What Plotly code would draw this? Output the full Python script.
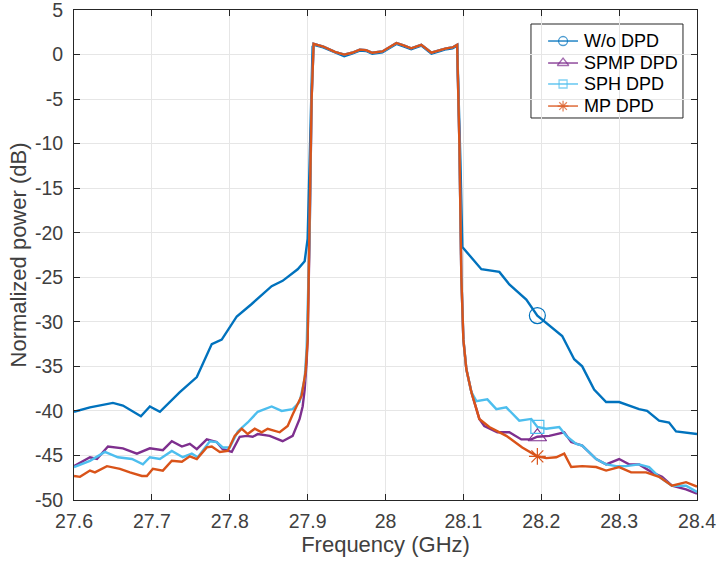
import plotly.graph_objects as go

# ---------------- data ----------------
x_ticks = [27.6, 27.7, 27.8, 27.9, 28.0, 28.1, 28.2, 28.3, 28.4]
x_tick_labels = ["27.6", "27.7", "27.8", "27.9", "28", "28.1", "28.2", "28.3", "28.4"]
y_ticks = [5, 0, -5, -10, -15, -20, -25, -30, -35, -40, -45, -50]
y_tick_labels = ["5", "0", "-5", "-10", "-15", "-20", "-25", "-30", "-35", "-40", "-45", "-50"]

legend_names = ["W/o DPD", "SPMP DPD", "SPH DPD", "MP DPD"]
marker_freq = 28.195

passband_freq = [27.908, 27.92, 27.935, 27.947, 27.957, 27.967, 27.975, 27.983, 27.996,
                 28.005, 28.014, 28.024, 28.033, 28.046, 28.059, 28.07, 28.078, 28.086, 28.092]

wo_freq = [27.600, 27.6205, 27.650, 27.6628, 27.6859, 27.6974, 27.7103, 27.7359, 27.7577,
           27.7769, 27.7897, 27.809, 27.8282, 27.8538, 27.8679, 27.8872, 27.8962, 27.900, 27.9064] \
    + passband_freq + \
          [28.0962, 28.0987, 28.1231, 28.1462, 28.159, 28.1808, 28.195, 28.2269, 28.2423,
           28.2526, 28.2679, 28.2833, 28.300, 28.3256, 28.3359, 28.3513, 28.3641, 28.3731, 28.400]
wo_db = [-40.1, -39.6, -39.1, -39.4, -40.6, -39.5, -40.1, -37.9, -36.2,
         -32.5, -32.0, -29.4, -28.0, -26.0, -25.4, -24.1, -23.2, -20.7, 0.9] \
    + [1.1, 0.8, 0.2, -0.2, 0.1, 0.45, 0.4, 0.1, 0.25, 0.7, 1.2, 0.9, 0.6, 1.0, 0.1, 0.4, 0.6, 0.7, 1.0] + \
        [-12.0, -21.6, -24.1, -24.4, -25.8, -27.5, -29.3, -31.6, -34.2,
         -35.0, -37.6, -39.0, -39.0, -39.8, -40.0, -41.1, -41.3, -42.3, -42.6]

spmp_freq = [27.600, 27.6205, 27.6295, 27.6436, 27.6628, 27.6808, 27.6974, 27.7141, 27.7256,
             27.7385, 27.7487, 27.7577, 27.7705, 27.7833, 27.791, 27.8026, 27.8128, 27.8218,
             27.8295, 27.8359, 27.8513, 27.8679, 27.8808, 27.8897, 27.8936, 27.8962, 27.8987,
             27.900, 27.9026, 27.9051, 27.9077] \
    + passband_freq[1:] + \
            [28.0949, 28.0974, 28.10, 28.1038, 28.1103, 28.1205, 28.1269, 28.1436, 28.159,
             28.1744, 28.1872, 28.195, 28.2103, 28.2295, 28.2385, 28.2526, 28.2705, 28.2833,
             28.300, 28.3128, 28.3256, 28.3423, 28.3551, 28.3679, 28.3859, 28.400]
spmp_db = [-46.2, -45.2, -45.4, -44.0, -44.2, -44.8, -44.2, -44.4, -43.4,
           -44.0, -43.7, -44.3, -43.2, -43.5, -44.3, -44.6, -42.9, -42.8,
           -42.9, -42.6, -42.8, -43.4, -42.8, -40.9, -39.5, -37.6, -34.5,
           -32.0, -20.0, -5.0, 1.2] \
    + [0.9, 0.3, 0.0, 0.2, 0.55, 0.5, 0.2, 0.35, 0.8, 1.3, 1.0, 0.7, 1.1, 0.2, 0.5, 0.7, 0.8, 1.1] + \
          [-10.0, -25.0, -32.0, -35.3, -37.9, -40.9, -41.7, -42.4, -42.4,
           -43.2, -43.2, -42.9, -42.8, -42.4, -43.5, -43.9, -45.4, -46.0,
           -45.4, -46.0, -46.0, -46.9, -47.4, -48.4, -48.8, -49.3]

sph_freq = [27.600, 27.6205, 27.6397, 27.6564, 27.6744, 27.6885, 27.6974, 27.7103, 27.7256,
            27.7397, 27.7513, 27.759, 27.7744, 27.7833, 27.791, 27.800, 27.8103, 27.8231,
            27.8359, 27.8538, 27.8667, 27.8808, 27.8897, 27.8962, 27.8987, 27.9026, 27.9051,
            27.9077] \
    + passband_freq[1:] + \
           [28.0949, 28.0974, 28.10, 28.1038, 28.1103, 28.1167, 28.1308, 28.1423, 28.1551,
            28.1718, 28.1872, 28.195, 28.2064, 28.2231, 28.2321, 28.2449, 28.2526, 28.2705,
            28.2833, 28.2962, 28.309, 28.3256, 28.3385, 28.3513, 28.3679, 28.3859, 28.400]
sph_db = [-46.3, -45.6, -44.6, -45.2, -45.4, -46.0, -45.2, -45.4, -44.5,
          -45.2, -44.8, -45.2, -43.4, -43.5, -44.1, -44.1, -42.3, -41.3,
          -40.1, -39.5, -40.0, -39.8, -39.0, -36.4, -33.0, -20.0, -5.0,
          1.2] \
    + [0.9, 0.3, 0.0, 0.2, 0.55, 0.5, 0.2, 0.35, 0.8, 1.3, 1.0, 0.7, 1.1, 0.2, 0.5, 0.7, 0.8, 1.1] + \
         [-10.0, -25.0, -32.0, -35.3, -37.9, -38.9, -38.7, -39.8, -39.6,
          -41.1, -40.9, -41.8, -42.0, -41.8, -42.8, -43.7, -43.9, -45.4,
          -46.0, -46.2, -46.2, -46.0, -46.3, -47.4, -48.4, -48.4, -49.1]

mp_freq = [27.600, 27.6077, 27.6205, 27.6269, 27.6423, 27.659, 27.6718, 27.6872, 27.6936,
           27.7013, 27.7141, 27.7256, 27.7385, 27.7487, 27.7577, 27.7705, 27.7769, 27.7872,
           27.7974, 27.8064, 27.8154, 27.8231, 27.8321, 27.841, 27.8487, 27.8641, 27.8744,
           27.8808, 27.8923, 27.8974, 27.900, 27.9026, 27.9051, 27.9077] \
    + passband_freq[1:] + \
          [28.0949, 28.0974, 28.10, 28.1038, 28.1103, 28.1205, 28.1333, 28.1551, 28.1756,
           28.195, 28.2064, 28.2192, 28.2295, 28.2385, 28.2526, 28.2705, 28.2833, 28.300,
           28.3154, 28.3346, 28.3513, 28.3679, 28.3859, 28.400]
mp_db = [-47.3, -47.4, -46.7, -46.9, -46.2, -46.5, -46.9, -47.3, -47.3,
         -46.5, -46.7, -45.6, -45.7, -45.1, -45.4, -44.1, -44.0, -44.6,
         -44.5, -42.8, -42.0, -42.6, -42.0, -42.4, -42.0, -42.4, -41.7,
         -40.4, -38.3, -35.6, -32.0, -20.0, -5.0, 1.2] \
    + [0.9, 0.3, 0.0, 0.2, 0.55, 0.5, 0.2, 0.35, 0.8, 1.3, 1.0, 0.7, 1.1, 0.2, 0.5, 0.7, 0.8, 1.1] + \
        [-10.0, -25.0, -32.0, -35.3, -37.9, -40.9, -41.8, -42.8, -44.1,
         -45.1, -45.3, -45.2, -44.8, -46.3, -46.2, -46.3, -46.7, -46.3,
         -46.9, -46.9, -47.4, -48.4, -48.0, -48.5]

# styles: (colour, symbol, marker size on curve, marker size in legend)
styles = [
    ("#0072BD", "circle-open", 16, 9),
    ("#7E2F8E", "triangle-up-open", 16, 10),
    ("#4DBEEE", "square-open", 13, 8),
    ("#D95319", "asterisk-open", 14, 9),
]
series = list(zip(legend_names, [wo_freq, spmp_freq, sph_freq, mp_freq],
                  [wo_db, spmp_db, sph_db, mp_db], styles))

fig = go.Figure()
for name, fx, fy, (color, sym, msize, lsize) in series:
    fig.add_trace(go.Scatter(x=fx, y=fy, mode="lines", line=dict(color=color, width=2.4),
                             showlegend=False, hoverinfo="skip"))
for name, fx, fy, (color, sym, msize, lsize) in series:
    i = fx.index(marker_freq)
    fig.add_trace(go.Scatter(x=[fx[i]], y=[fy[i]], mode="markers",
                             marker=dict(symbol=sym, size=msize, color=color,
                                         line=dict(color=color, width=1.2)),
                             showlegend=False, hoverinfo="skip"))

# ---------------- hand-made legend (MATLAB style) on a hidden overlay axis ----------------
box_x0, box_x1, box_y0, box_y1 = 0.7335, 0.9775, 0.7796, 0.9714
row_y = [0.9367, 0.8918, 0.849, 0.804]
line_x0, line_xm, line_x1, text_x = 0.761, 0.785, 0.809, 0.816

fig.add_shape(type="rect", xref="paper", yref="paper", x0=box_x0, x1=box_x1, y0=box_y0, y1=box_y1,
              line=dict(color="#262626", width=1), fillcolor="white", layer="between")
for (name, fx, fy, (color, sym, msize, lsize)), ry in zip(series, row_y):
    fig.add_trace(go.Scatter(x=[line_x0, line_xm, line_x1], y=[ry, ry, ry], xaxis="x2", yaxis="y2",
                             mode="lines+markers", line=dict(color=color, width=1.3),
                             marker=dict(symbol=sym, size=[0, lsize, 0], color=color,
                                         line=dict(color=color, width=1.3)),
                             showlegend=False, hoverinfo="skip"))
    fig.add_annotation(x=text_x, y=ry, xref="paper", yref="paper", text=name, showarrow=False,
                       xanchor="left", yanchor="middle", font=dict(size=18, color="#000000"))

axis_common = dict(showgrid=True, gridcolor="#e6e6e6", gridwidth=1, zeroline=False,
                   showline=True, linecolor="#262626", linewidth=1, mirror="allticks",
                   ticks="inside", ticklen=6, tickcolor="#262626", automargin=False,
                   ticklabeloverflow="allow",
                   tickfont=dict(size=19.5, color="#404040"))

fig.update_layout(
    width=717, height=565,
    margin=dict(l=74, r=20, t=10, b=65),
    paper_bgcolor="white", plot_bgcolor="white", showlegend=False,
    font=dict(family="Liberation Sans, Arial, sans-serif", color="#404040"),
    xaxis=dict(range=[27.6, 28.4], tickvals=x_ticks, ticktext=x_tick_labels,
               ticklabelstandoff=4,
               title=dict(text="Frequency (GHz)", font=dict(size=22), standoff=4),
               **axis_common),
    yaxis=dict(range=[-50, 5], tickvals=y_ticks, ticktext=y_tick_labels,
               ticklabelstandoff=6,
               title=dict(text="Normalized power (dB)", font=dict(size=22), standoff=2),
               **axis_common),
    xaxis2=dict(overlaying="x", range=[0, 1], visible=False, fixedrange=True),
    yaxis2=dict(overlaying="y", range=[0, 1], visible=False, fixedrange=True),
)

fig.write_html("out.html", config={"displayModeBar": False},
               post_script="document.body.style.margin='0px';document.body.style.overflow='hidden';")
